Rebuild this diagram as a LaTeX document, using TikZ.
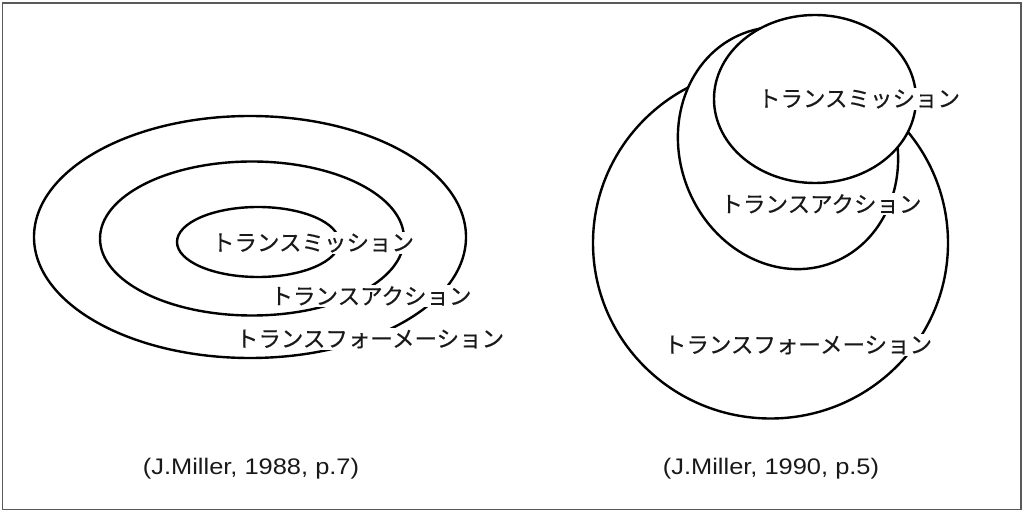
\documentclass[tikz,border=0pt]{standalone}
\usepackage{fontspec}
\usetikzlibrary{shapes.geometric}
\newfontfamily\jpfont[FakeBold=0.4]{Noto Sans CJK JP}
\newfontfamily\capfont[FakeStretch=1.13]{Liberation Sans}
\begin{document}
\begin{tikzpicture}[x=1bp,y=-1bp,
  ring/.style={ellipse, draw=black, line width=2.4bp, fill=white, inner sep=0pt, outer sep=0pt},
  jplabel/.style={fill=white, inner sep=1.5bp, text=black!90, font=\jpfont\fontsize{22.5bp}{26bp}\selectfont},
  caption/.style={inner sep=0pt, text=black!90, font=\capfont\fontsize{22.5bp}{26bp}\selectfont},
  frame/.style={draw=black!65, line width=1.5bp}]
\useasboundingbox (0,0) rectangle (1024,513);
\draw[frame] (2.5,3) rectangle (1021,509.5);
% left: concentric ellipses
\node[ring, minimum width=432bp, minimum height=242bp] (outerL) at (250,237) {};
\node[ring, minimum width=304bp, minimum height=154bp] (midL) at (252,238.5) {};
\node[ring, minimum width=162bp, minimum height=70bp] (innerL) at (258,242) {};
\node[jplabel] (tmL) at (313,243) {トランスミッション};
\node[jplabel] (taL) at (371,296) {トランスアクション};
\node[jplabel] (tfL) at (370,339) {トランスフォーメーション};
% right: overlapping circles
\node[ring, minimum width=355bp, minimum height=351bp] (outerR) at (770.5,243) {};
\node[ring, rotate=111.4, minimum width=246bp, minimum height=216bp] (midR) at (788,148) {};
\node[ring, minimum width=202bp, minimum height=168bp] (innerR) at (815,99) {};
\node[jplabel] (tmR) at (859,99) {トランスミッション};
\node[jplabel] (taR) at (821,204) {トランスアクション};
\node[jplabel] (tfR) at (798,345) {トランスフォーメーション};
% captions
\node[caption] (capL) at (251,469) {(J.Miller, 1988, p.7)};
\node[caption] (capR) at (771,469) {(J.Miller, 1990, p.5)};
\end{tikzpicture}
\end{document}
